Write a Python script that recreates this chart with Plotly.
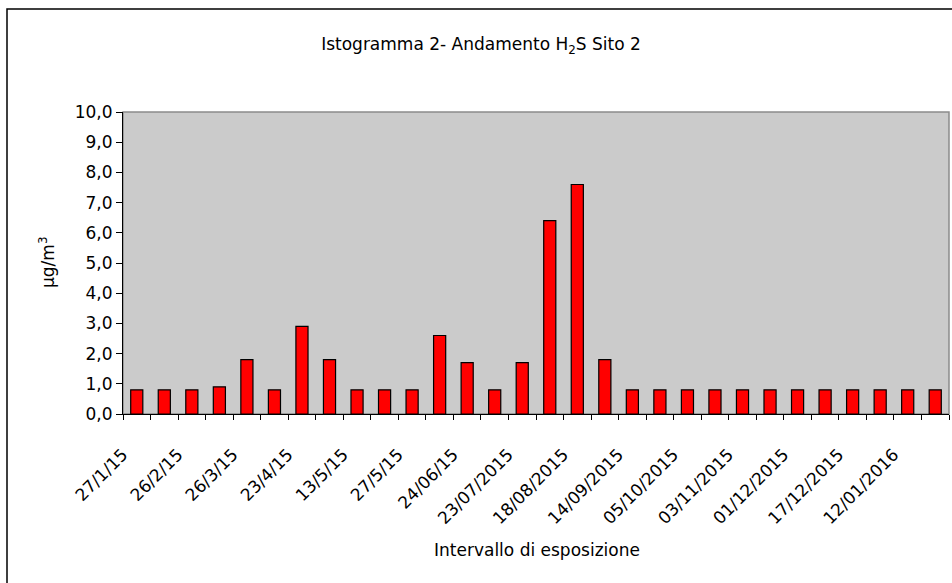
import plotly.graph_objects as go

tick_labels = ["27/1/15", "26/2/15", "26/3/15", "23/4/15", "13/5/15", "27/5/15",
               "24/06/15", "23/07/2015", "18/08/2015", "14/09/2015", "05/10/2015",
               "03/11/2015", "01/12/2015", "17/12/2015", "12/01/2016"]
values = [0.8, 0.8, 0.8, 0.9, 1.8, 0.8, 2.9, 1.8, 0.8, 0.8,
          0.8, 2.6, 1.7, 0.8, 1.7, 6.4, 7.6, 1.8, 0.8, 0.8,
          0.8, 0.8, 0.8, 0.8, 0.8, 0.8, 0.8, 0.8, 0.8, 0.8]
positions = list(range(len(values)))
label_positions = positions[::2]

W, H = 952, 583
L, R, T, B = 123, 3, 112, 169
pw, ph = W - L - R, H - T - B

def px_x(x):
    return (x - L) / pw

def px_y(y):
    return (H - B - y) / ph

FONT = "DejaVu Sans, Liberation Sans, Arial, sans-serif"
FS = 17

fig = go.Figure()
fig.add_trace(go.Bar(
    x=positions, y=values, width=0.44,
    marker=dict(color="#FF0000", line=dict(color="black", width=1.2)),
    hoverinfo="y",
))

fig.update_layout(
    width=W, height=H,
    margin=dict(l=L, r=R, t=T, b=B),
    paper_bgcolor="white", plot_bgcolor="#CBCBCB",
    separators=",.",
    showlegend=False,
    font=dict(family=FONT, size=FS, color="black"),
    title=dict(text="Istogramma 2- Andamento H<sub>2</sub>S Sito 2",
               x=481 / W, xanchor="center", xref="container",
               y=1 - 44 / H, yanchor="middle", yref="container",
               font=dict(family=FONT, size=FS, color="black")),
    xaxis=dict(
        range=[-0.5, len(values) - 0.5],
        tickmode="array", tickvals=label_positions, ticktext=tick_labels,
        tickangle=-45, ticks="", showgrid=False, zeroline=False,
        showline=True, linecolor="black", linewidth=1,
        tickfont=dict(family=FONT, size=FS),
        ticklabelstandoff=23, ticklabelshift=-14,
        minor=dict(tickmode="linear", tick0=-0.5, dtick=1, ticks="outside",
                   ticklen=5, tickcolor="black", tickwidth=1, showgrid=False),
        fixedrange=True,
    ),
    yaxis=dict(
        range=[0, 10], dtick=1, tickformat=".1f",
        ticks="outside", ticklen=6, tickcolor="black", tickwidth=1,
        showgrid=False, zeroline=False,
        showline=True, linecolor="black", linewidth=1,
        tickfont=dict(family=FONT, size=FS),
        fixedrange=True,
    ),
    shapes=[
        dict(type="rect", xref="paper", yref="paper", x0=0, x1=1, y0=0, y1=1,
             line=dict(color="#8C8C8C", width=1.5), fillcolor="rgba(0,0,0,0)", layer="below"),
        dict(type="rect", xref="paper", yref="paper",
             x0=px_x(7), x1=px_x(960), y0=px_y(9), y1=px_y(600),
             line=dict(color="black", width=1.5), fillcolor="rgba(0,0,0,0)"),
    ],
    annotations=[
        dict(text="µg/m<sup>3</sup>", textangle=-90, xref="paper", yref="paper",
             x=px_x(47), y=px_y(263), showarrow=False, xanchor="center", yanchor="middle",
             font=dict(family=FONT, size=FS)),
        dict(text="Intervallo di esposizione", xref="paper", yref="paper",
             x=px_x(537), y=px_y(550), showarrow=False, xanchor="center", yanchor="middle",
             font=dict(family=FONT, size=FS)),
    ],
)

fig.write_html("out.html",
               config={"displayModeBar": False},
               post_script="document.body.style.margin='0';document.body.style.padding='0';")
